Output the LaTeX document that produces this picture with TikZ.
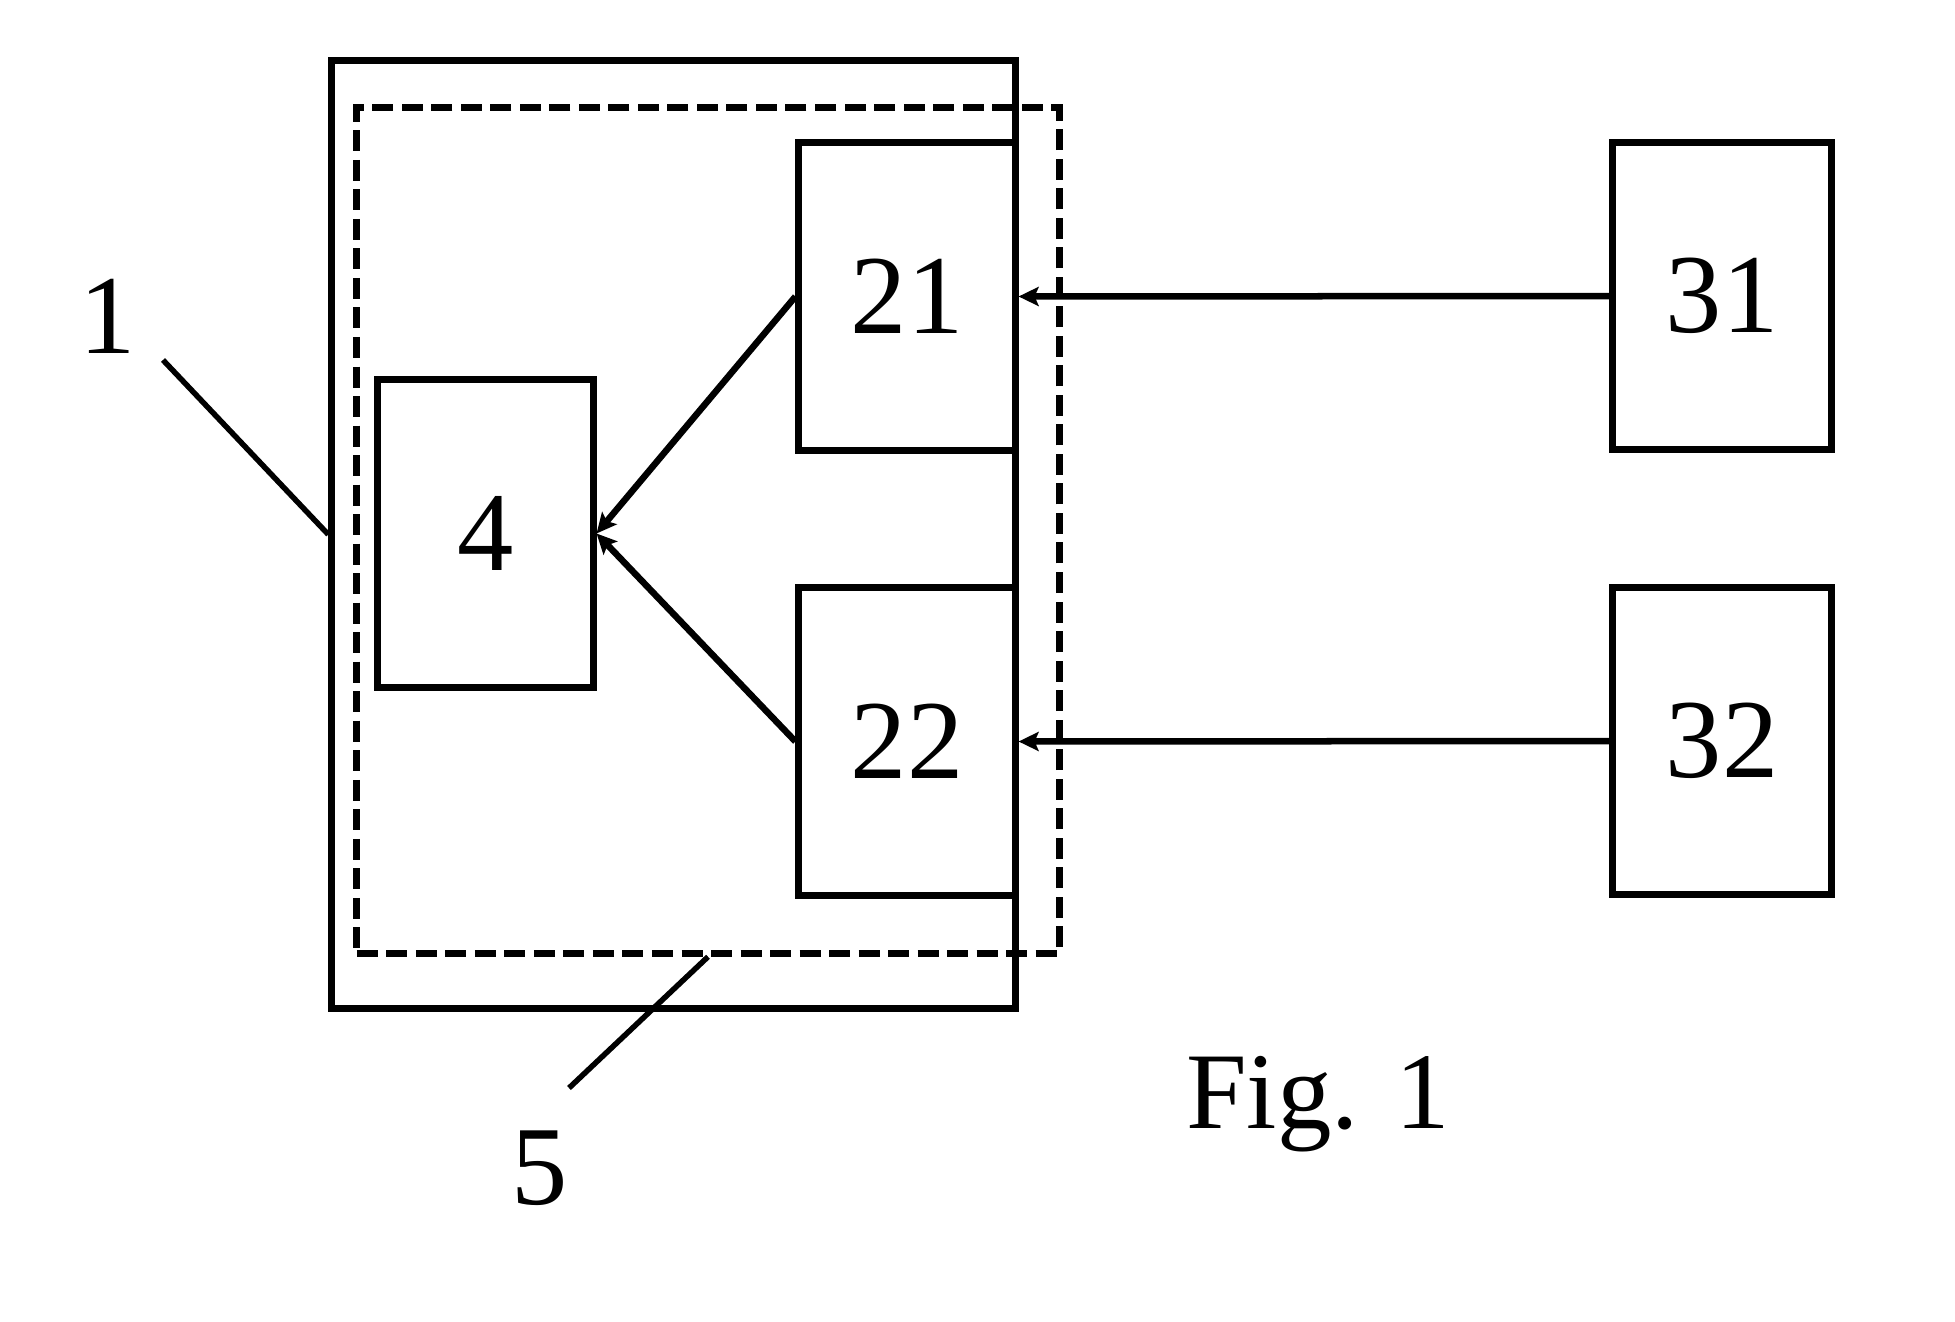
\documentclass[tikz,border=0pt]{standalone}
\usepackage{fontspec}
\setmainfont{Liberation Serif}
\usetikzlibrary{arrows.meta}
\tikzset{
  blk/.style={draw, line width=0.07cm, inner sep=0pt, minimum width=2.16cm, minimum height=3.07cm, font=\fontsize{32}{38}\selectfont},
  frame/.style={draw, line width=0.07cm, inner sep=0pt},
  dframe/.style={draw, line width=0.07cm, inner sep=0pt, dash pattern=on 0.21cm off 0.085cm},
  arr/.style={line width=0.065cm, -{Stealth[length=0.2cm,width=0.19cm,inset=0.04cm]}},
  lead/.style={line width=0.055cm},
  lbl/.style={inner sep=0pt, font=\fontsize{32}{38}\selectfont}
}
\begin{document}
\begin{tikzpicture}[x=0.01cm,y=-0.01cm]
\useasboundingbox (0,0) rectangle (1955,1321);
% outer box 1 and dashed box 5
\node[frame, minimum width=6.83cm, minimum height=9.47cm] (box1) at (673.5,534.5) {};
\node[dframe, minimum width=7.02cm, minimum height=8.45cm] (box5) at (708,530.5) {};
% inner blocks
\node[blk, minimum width=2.15cm] (b4) at (485.5,533.5) {4};
\node[blk] (b21) at (907,296.5) {21};
\node[blk] (b22) at (907,741.5) {22};
\node[blk, minimum width=2.18cm, minimum height=3.06cm] (b31) at (1722,296) {31};
\node[blk, minimum width=2.18cm, minimum height=3.06cm] (b32) at (1722,741) {32};
% connectors
\draw[arr] (b31.west) -- (b21.east);
\draw[arr] (b32.west) -- (b22.east);
\draw[arr] (b21.west) -- (b4.east);
\draw[arr] (b22.west) -- (b4.east);
% reference labels
\node[lbl] (l1) at (108,316) {1};
\coordinate (l1end) at (163,360);
\draw[lead] (l1end) -- (box1.west);
\node[lbl] (l5) at (540,1168) {5};
\coordinate (l5end) at (569,1088);
\draw[lead] (l5end) -- (box5.south);
\node[lbl, anchor=base, font=\fontsize{31}{37}\selectfont] (fig) at (1318,1128) {Fig. 1};
\end{tikzpicture}
\end{document}
